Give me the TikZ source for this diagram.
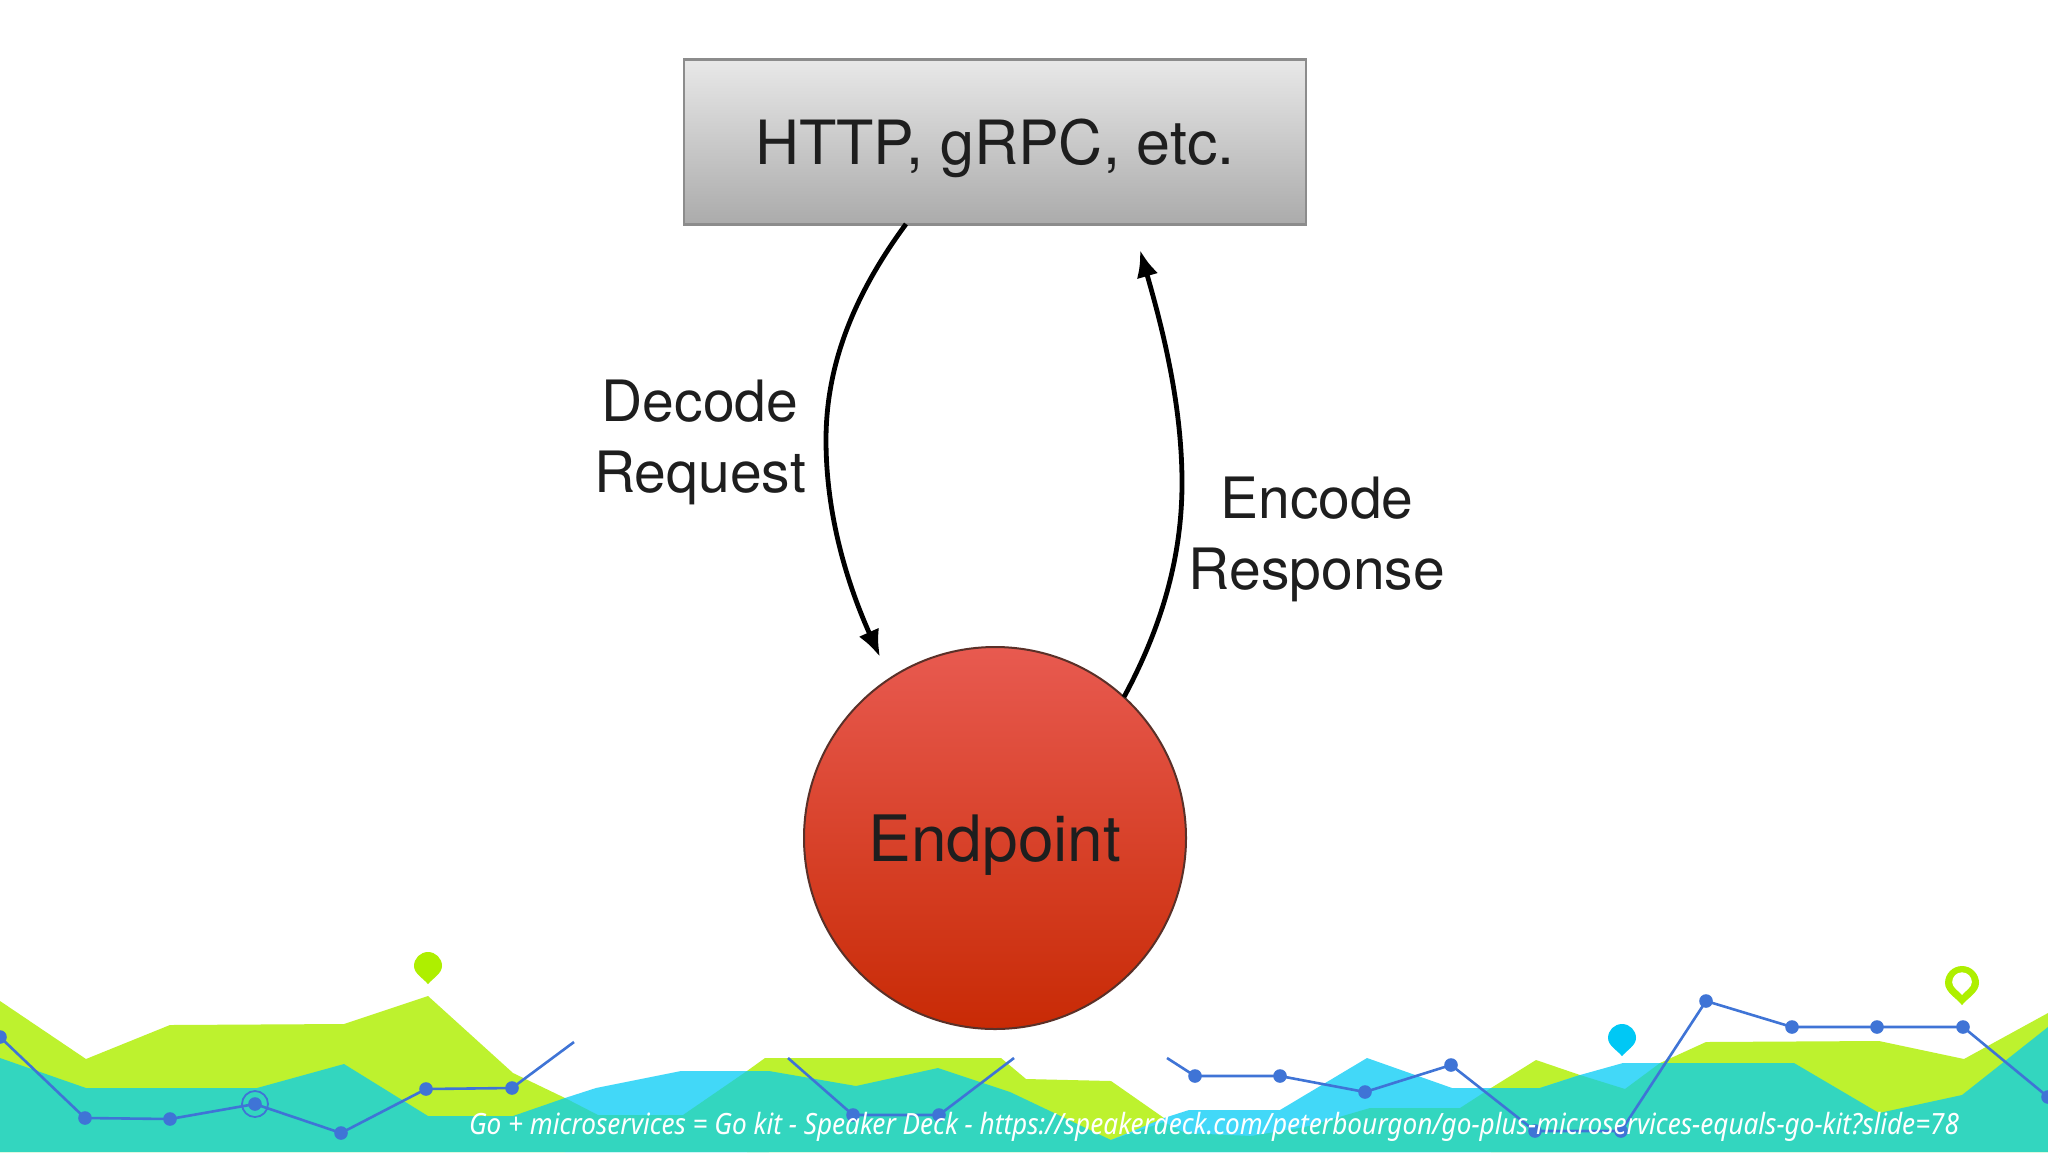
\documentclass[tikz,border=0pt]{standalone}
\usepackage{fontspec}
\setmainfont{TeX Gyre Heros}
\newfontfamily\capfont{Noto Sans}
\usetikzlibrary{arrows.meta}
\definecolor{limeA}{HTML}{BDF22E}
\definecolor{tealA}{HTML}{33D6BF}
\definecolor{cyanA}{HTML}{42D8F8}
\definecolor{blueA}{HTML}{3F74D6}
\definecolor{pinLime}{HTML}{AEEF00}
\definecolor{pinCyan}{HTML}{00C8F5}
\definecolor{inkA}{HTML}{1E1E1E}
\definecolor{epTop}{HTML}{E85A50}
\definecolor{epBot}{HTML}{C82A05}
\definecolor{epEdge}{HTML}{5A3028}
\tikzset{
  bigtext/.style={font=\fontsize{28.5}{35.5}\selectfont,text=inkA,align=center,inner sep=0pt},
  boxnode/.style={draw=black!45,line width=1.2pt,top color=black!9,bottom color=black!33,minimum width=311pt,minimum height=82.5pt,inner sep=0pt,text depth=0pt},
  endnode/.style={circle,draw=epEdge,line width=1pt,top color=epTop,bottom color=epBot,minimum size=191pt,inner sep=0pt,text depth=0pt},
  flow/.style={line width=2.4pt,draw=black,-{Latex[length=13.5pt,width=11pt]}},
  bluepath/.style={draw=blueA,line width=1.3pt},
  dot/.style={circle,fill=blueA,minimum size=6.8pt,inner sep=0pt}
}
\def\pinshape{(0,1.3) .. controls (-.3,.9) and (-1,.55) .. (-1,0) .. controls (-1,-.55) and (-.55,-1) .. (0,-1) .. controls (.55,-1) and (1,-.55) .. (1,0) .. controls (1,.55) and (.3,.9) .. (0,1.3) -- cycle}
\begin{document}
\begin{tikzpicture}[x=0.5pt,y=-0.5pt]
\useasboundingbox (0,0) rectangle (2048,1152);
\fill[white] (0,0) rectangle (2048,1152);
% lime hills
\fill[limeA] (0,1001) -- (86,1059) -- (170,1025) -- (344,1024) -- (428,996) -- (513,1073) -- (565,1098) -- (565,1152) -- (0,1152) -- cycle;
\fill[limeA] (747,1071) -- (765,1058) -- (1001,1058) -- (1026,1079) -- (1111,1081) -- (1164,1118) -- (1111,1152) -- (747,1152) -- cycle;
\fill[limeA] (1491,1088) -- (1536,1060) -- (1580,1075) -- (1580,1152) -- (1491,1152) -- cycle;
\fill[limeA] (1660,1063) -- (1706,1042) -- (1879,1041) -- (1964,1059) -- (2048,1013) -- (2048,1152) -- (1660,1152) -- cycle;
% cyan hills
\fill[cyanA] (565,1098) -- (596,1088) -- (681,1071) -- (769,1071) -- (769,1152) -- (565,1152) -- cycle;
\fill[cyanA] (1111,1140) -- (1164,1118) -- (1189,1110) -- (1280,1110) -- (1367,1058) -- (1452,1088) -- (1540,1088) -- (1580,1075) -- (1623,1063) -- (1680,1063) -- (1680,1152) -- (1111,1152) -- cycle;
% teal hills
\fill[tealA] (0,1058) -- (86,1088) -- (257,1088) -- (344,1064) -- (428,1116) -- (513,1116) -- (565,1098) -- (598,1115) -- (683,1115) -- (747,1071) -- (769,1071) -- (856,1086) -- (938,1068) -- (1010,1092) -- (1111,1140) -- (1164,1122) -- (1185,1133) -- (1251,1136) -- (1305,1127) -- (1370,1108) -- (1460,1108) -- (1491,1088) -- (1540,1088) -- (1580,1075) -- (1625,1089) -- (1660,1063) -- (1794,1063) -- (1879,1113) -- (1962,1095) -- (2048,1027) -- (2048,1152) -- (0,1152) -- cycle;
% blue lines
\node[dot] (a1) at (0,1037) {};
\node[dot] (a2) at (85,1118) {};
\node[dot] (a3) at (170,1119) {};
\node[dot] (a4) at (255,1104) {};
\node[dot] (a5) at (341,1133) {};
\node[dot] (a6) at (426,1089) {};
\node[dot] (a7) at (512,1088) {};
\coordinate (a8) at (574,1042);
\draw[bluepath] (a1.center) -- (a2.center) -- (a3.center) -- (a4.center) -- (a5.center) -- (a6.center) -- (a7.center) -- (a8);
\node[circle,draw=blueA,line width=.9pt,minimum size=13pt,inner sep=0pt] (ring) at (a4) {};
\coordinate (b1) at (788,1058);
\node[dot] (b2) at (853,1115) {};
\node[dot] (b3) at (939,1115) {};
\coordinate (b4) at (1014,1058);
\draw[bluepath] (b1) -- (b2.center) -- (b3.center) -- (b4);
\coordinate (c1) at (1167,1058);
\node[dot] (c2) at (1195,1076) {};
\node[dot] (c3) at (1280,1076) {};
\node[dot] (c4) at (1365,1092) {};
\node[dot] (c5) at (1451,1065) {};
\node[dot] (c6) at (1535,1131) {};
\node[dot] (c7) at (1621,1131) {};
\node[dot] (c8) at (1706,1001) {};
\node[dot] (c9) at (1792,1027) {};
\node[dot] (c10) at (1877,1027) {};
\node[dot] (c11) at (1963,1027) {};
\node[dot] (c12) at (2048,1097) {};
\draw[bluepath] (c1) -- (c2.center) -- (c3.center) -- (c4.center) -- (c5.center) -- (c6.center) -- (c7.center) -- (c8.center) -- (c9.center) -- (c10.center) -- (c11.center) -- (c12.center);
% pins
\begin{scope}[shift={(428,966)},scale=14]
\fill[pinLime] \pinshape;
\end{scope}
\begin{scope}[shift={(1622,1038)},scale=14]
\fill[pinCyan] \pinshape;
\end{scope}
\begin{scope}[shift={(1962,983)},scale=17]
\fill[pinLime] \pinshape;
\begin{scope}[shift={(0,-.05)},scale=.58]
\fill[white] \pinshape;
\end{scope}
\end{scope}
% main diagram
\node[boxnode,bigtext,font=\fontsize{30.5}{36}\selectfont] (box) at (995,142) {HTTP, gRPC, etc.};
\node[endnode,bigtext,font=\fontsize{32}{36}\selectfont] (ep) at (995,838) {Endpoint};
\node[bigtext] (dec) at (700,442) {Decode\\Request};
\node[bigtext] (enc) at (1317,539) {Encode\\Response};
\coordinate (dstart) at (906,224);
\coordinate (dmid) at (826,440);
\coordinate (dend) at (880,657);
\coordinate (estart) at (1124,697);
\coordinate (emid) at (1182,483);
\coordinate (eend) at (1140,250);
\draw[flow] (dstart) .. controls (850,300) and (826,370) .. (dmid) .. controls (826,520) and (850,590) .. (dend);
\draw[flow] (estart) .. controls (1160,630) and (1182,560) .. (emid) .. controls (1182,400) and (1160,320) .. (eend);
% caption
\node[anchor=center,inner sep=0pt,text=white] (cap) at (1214,1127) {\scalebox{1}[1.12]{\resizebox{745pt}{!}{\capfont\itshape\fontsize{12.5}{15}\selectfont Go + microservices = Go kit - Speaker Deck - https://speakerdeck.com/peterbourgon/go-plus-microservices-equals-go-kit?slide=78}}};
\end{tikzpicture}
\end{document}
